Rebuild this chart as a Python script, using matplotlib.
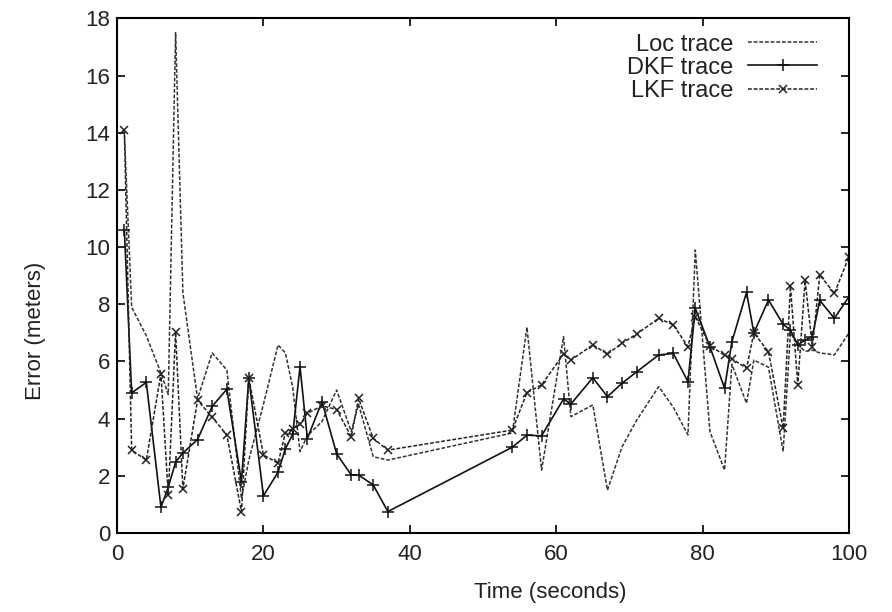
import matplotlib.pyplot as plt
import numpy as np

plt.rcParams['font.family'] = ['Liberation Sans', 'DejaVu Sans']

# sample times (seconds)
time_s = [1, 2, 4, 6, 7, 8, 9, 11, 13, 15, 17, 18, 20, 22, 23, 24, 25, 26, 28, 30,
          32, 33, 35, 37, 54, 56, 58, 61, 62, 65, 67, 69, 71, 74, 76, 78, 79, 81, 83, 84,
          86, 87, 89, 91, 92, 93, 94, 95, 96, 98, 100]

loc_err = [14.0, 7.9, 6.9, 5.6, 4.85, 17.5, 8.4, 4.7, 6.3, 5.7, 1.2, 2.55, 4.5, 6.58, 6.3, 5.1, 2.85, 3.4, 3.9, 5.0,
           3.55, 4.5, 2.67, 2.55, 3.5, 7.2, 2.2, 6.87, 4.07, 4.48, 1.5, 3.02, 3.95, 5.12, 4.4, 3.43, 9.9, 3.55, 2.2, 5.9,
           4.54, 6.05, 5.8, 2.85, 7.0, 6.6, 6.35, 6.4, 6.3, 6.23, 7.0]

dkf_err = [10.6, 4.9, 5.27, 0.9, 1.6, 2.48, 2.8, 3.27, 4.43, 5.03, 1.8, 5.43, 1.3, 2.13, 2.95, 3.45, 5.82, 3.3, 4.6, 2.77,
           2.03, 2.03, 1.68, 0.75, 3.0, 3.42, 3.4, 4.69, 4.51, 5.43, 4.77, 5.24, 5.64, 6.23, 6.28, 5.29, 7.86, 6.52, 5.06, 6.69,
           8.42, 7.0, 8.15, 7.3, 7.1, 6.58, 6.75, 6.87, 8.14, 7.51, 8.27]

lkf_err = [14.1, 2.9, 2.55, 5.57, 1.32, 7.03, 1.55, 4.65, 4.05, 3.43, 0.75, 5.43, 2.73, 2.44, 3.51, 3.65, 3.8, 4.19, 4.45, 4.32,
           3.37, 4.71, 3.31, 2.9, 3.6, 4.91, 5.18, 6.26, 6.05, 6.58, 6.26, 6.64, 6.96, 7.51, 7.28, 6.52, 7.57, 6.55, 6.22, 6.1,
           5.76, 7.0, 6.34, 3.66, 8.63, 5.18, 8.84, 6.5, 9.03, 8.38, 9.67]

fig = plt.figure(figsize=(8.92, 6.12), dpi=100)
ax = fig.add_axes([0.1312, 0.1291, 0.8206, 0.8407])

ax.plot(time_s, loc_err, color='#333333', lw=1.1, ls=(0, (2.5, 1.2)), label='Loc trace')
ax.plot(time_s, dkf_err, color='#111111', lw=1.2, ls='-', marker='+', ms=8, mew=1.1, label='DKF trace')
ax.plot(time_s, lkf_err, color='#222222', lw=1.1, ls=(0, (2.5, 1.2)), marker='x', ms=6, mew=1.1, label='LKF trace')

ax.set_xlim(0, 100)
ax.set_ylim(0, 18)
ax.set_xticks(np.arange(0, 101, 20))
ax.set_yticks(np.arange(0, 19, 2))
ax.tick_params(direction='in', length=6, width=1.2, top=True, right=True, labelsize=16,
               labelcolor='#222222')
ax.tick_params(axis='x', pad=8)
ax.tick_params(axis='y', pad=5)
for sp in ax.spines.values():
    sp.set_linewidth(1.5)

# axis titles sit a little off-centre, as in the original gnuplot output
ax.set_xlabel('Time (seconds)', fontsize=16, labelpad=12, color='#222222')
ax.set_ylabel('Error (meters)', fontsize=16, labelpad=28, color='#222222')
ax.xaxis.label.set_x(0.592)
ax.yaxis.label.set_y(0.393)

leg = ax.legend(loc='upper right', bbox_to_anchor=(0.985, 1.012), frameon=False, markerfirst=False,
                fontsize=17, handlelength=2.9, handletextpad=0.65, labelspacing=0.05, numpoints=1)
for t in leg.get_texts():
    t.set_color('#222222')

fig.savefig('out.png')
